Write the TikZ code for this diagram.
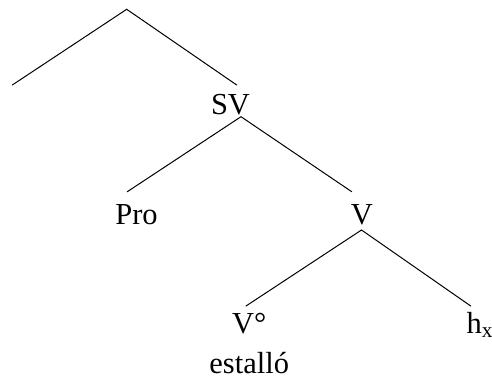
\documentclass[tikz,border=0pt]{standalone}
\usepackage{fontspec}
\setmainfont{Liberation Serif}
\usepackage{tikz}
\usetikzlibrary{positioning}
\tikzstyle{branch} = [line width=1pt, line cap=round]

\begin{document}
\begin{tikzpicture}[
			x = 1pt, y = -1pt,
			every node/.style = {inner sep = 0pt, anchor = base, font = \fontsize{30.5}{36}\selectfont}
		]
			\useasboundingbox (0,0) rectangle (492,379);

			% ends of the branches
			\coordinate (Top) at (126.7,9.3);
			\coordinate (Left) at (12.3,85);
			\coordinate (SV_in) at (236.7,85);
			\coordinate (SV_out) at (241,116.7);
			\coordinate (Pro_in) at (127.3,191.7);
			\coordinate (V_in) at (351.7,191.7);
			\coordinate (V_out) at (361.5,230);
			\coordinate (V0_in) at (246,306);
			\coordinate (hx_in) at (470.7,306);

			% Labels
			\node (SV) at (230.5,115) {SV};
			\node (Pro) at (136.5,225) {Pro};
			\node (V) at (362,225) {V};
			\node [anchor = base west] (V0) at (231.8,333.3) {V°};
			\node [anchor = base west] (hx) at (466.4,333.3) {h\textsubscript{x}};
			\node (estallo) at (249.2,373.5) {estalló};

			% Branches
			\draw [branch] (Left) -- (Top) -- (SV_in);
			\draw [branch] (Pro_in) -- (SV_out) -- (V_in);
			\draw [branch] (V0_in) -- (V_out) -- (hx_in);
		\end{tikzpicture}
\end{document}
